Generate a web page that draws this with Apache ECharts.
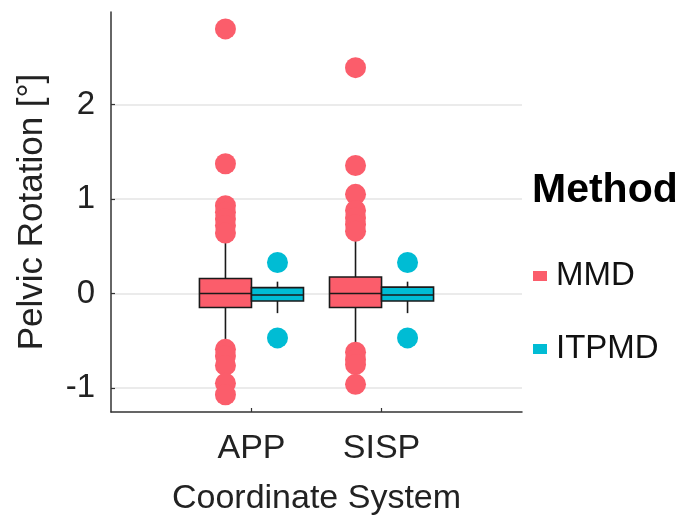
<!DOCTYPE html>
<html>
<head>
<meta charset="utf-8">
<script src="https://cdn.jsdelivr.net/npm/echarts@6/dist/echarts.min.js"></script>
<style>html,body{margin:0;padding:0;background:#fff;}#c{width:680px;height:521px;}</style>
</head>
<body>
<div id="c"></div>
<script>
// ---- data ----
const categories = ["APP", "SISP"];
const methods = ["MMD", "ITPMD"];
const yTicks = [-1, 0, 1, 2];
// box stats per category: [lowWhisker, Q1, median, Q3, highWhisker]
const mmdStats = [
  [-0.52, -0.147, 0.0, 0.16, 0.56],
  [-0.53, -0.147, 0.0, 0.175, 0.58]
];
const itpmdStats = [
  [-0.207, -0.078, -0.015, 0.063, 0.126],
  [-0.207, -0.078, -0.015, 0.068, 0.126]
];
// outliers per category
const mmdOutliers = [
  [2.80, 1.373, 0.93, 0.86, 0.79, 0.72, 0.64, -0.59, -0.66, -0.76, -0.95, -1.07],
  [2.39, 1.355, 1.05, 0.88, 0.80, 0.73, 0.66, -0.62, -0.70, -0.75, -0.96]
];
const itpmdOutliers = [
  [0.329, -0.469],
  [0.329, -0.469]
];

const colors = { MMD: "#FB5D6B", ITPMD: "#00BCD4" };
const DODGE = 0.2, BOX_W = 0.4;
const FONT = "'Liberation Sans', Arial, Helvetica, sans-serif";

function boxData(stats, offset) {
  return stats.map((s, i) => [i + 1 + offset].concat(s));
}
function outlierData(outs, offset) {
  const arr = [];
  outs.forEach((vals, i) => vals.forEach(v => arr.push([i + 1 + offset, v])));
  return arr;
}
function renderBox(params, api) {
  const x = api.value(0);
  const lo = api.value(1), q1 = api.value(2), med = api.value(3), q3 = api.value(4), hi = api.value(5);
  const pTL = api.coord([x - BOX_W / 2, q3]);
  const pBR = api.coord([x + BOX_W / 2, q1]);
  const pHi = api.coord([x, hi]);
  const pLo = api.coord([x, lo]);
  const pMedL = api.coord([x - BOX_W / 2, med]);
  const pMedR = api.coord([x + BOX_W / 2, med]);
  const stroke = { stroke: "#1a1a1a", lineWidth: 1.6 };
  return {
    type: "group",
    children: [
      { type: "line", shape: { x1: pHi[0], y1: pHi[1], x2: pHi[0], y2: pTL[1] }, style: stroke },
      { type: "line", shape: { x1: pLo[0], y1: pBR[1], x2: pLo[0], y2: pLo[1] }, style: stroke },
      { type: "rect", shape: { x: pTL[0], y: pTL[1], width: pBR[0] - pTL[0], height: pBR[1] - pTL[1] },
        style: { fill: api.visual("color"), stroke: "#1a1a1a", lineWidth: 1.6 } },
      { type: "line", shape: { x1: pMedL[0], y1: pMedL[1], x2: pMedR[0], y2: pMedR[1] }, style: stroke }
    ]
  };
}

const chart = echarts.init(document.getElementById("c"), null, { renderer: "canvas" });
chart.setOption({
  animation: false,
  backgroundColor: "#fff",
  textStyle: { fontFamily: FONT },
  color: [colors.MMD, colors.ITPMD],
  grid: { left: 111, right: 158, top: 12, bottom: 106, containLabel: false },
  xAxis: {
    type: "value", min: -0.08, max: 3.08,
    name: "Coordinate System", nameLocation: "middle", nameGap: 70,
    nameTextStyle: { fontSize: 34, color: "#222", fontFamily: FONT },
    axisLine: { show: true, onZero: false, lineStyle: { color: "#333", width: 1.5 } },
    axisTick: { show: true, inside: true, length: 4, customValues: [1, 2], lineStyle: { color: "#333", width: 1.2 } },
    axisLabel: { customValues: [1, 2], formatter: v => categories[Math.round(v) - 1] || "",
      fontSize: 34, color: "#222", margin: 20, fontFamily: FONT },
    splitLine: { show: false }
  },
  yAxis: {
    type: "value", min: -1.253, max: 2.979,
    name: "Pelvic Rotation [°]", nameLocation: "middle", nameGap: 61, nameRotate: 90,
    nameTextStyle: { fontSize: 35, color: "#222", fontFamily: FONT },
    axisLine: { show: true, onZero: false, lineStyle: { color: "#333", width: 1.5 } },
    axisTick: { show: true, inside: true, length: 4, customValues: yTicks, lineStyle: { color: "#333", width: 1.2 } },
    axisLabel: { customValues: yTicks, fontSize: 33, color: "#222", margin: 16, fontFamily: FONT },
    splitLine: { show: true, lineStyle: { color: "#e4e4e4", width: 1.5 } }
  },
  legend: {
    data: methods, orient: "vertical", left: 528, top: 251,
    icon: "rect", itemWidth: 14, itemHeight: 10, itemGap: 33,
    textStyle: { fontSize: 33, color: "#111", fontFamily: FONT, lineHeight: 40, padding: [0, 0, 0, 4] },
    selectedMode: false
  },
  graphic: [
    { type: "text", left: 532, top: 170,
      style: { text: "Method", font: "bold 41px " + FONT, fill: "#000" } }
  ],
  series: [
    { name: "MMD", type: "custom", renderItem: renderBox, itemStyle: { color: colors.MMD },
      encode: { x: 0, y: [1, 2, 3, 4, 5] }, data: boxData(mmdStats, -DODGE), z: 2 },
    { name: "ITPMD", type: "custom", renderItem: renderBox, itemStyle: { color: colors.ITPMD },
      encode: { x: 0, y: [1, 2, 3, 4, 5] }, data: boxData(itpmdStats, DODGE), z: 2 },
    { name: "MMD", type: "scatter", symbolSize: 21, itemStyle: { color: colors.MMD, opacity: 1 },
      data: outlierData(mmdOutliers, -DODGE), z: 3 },
    { name: "ITPMD", type: "scatter", symbolSize: 21, itemStyle: { color: colors.ITPMD, opacity: 1 },
      data: outlierData(itpmdOutliers, DODGE), z: 3 }
  ]
});
</script>
</body>
</html>
